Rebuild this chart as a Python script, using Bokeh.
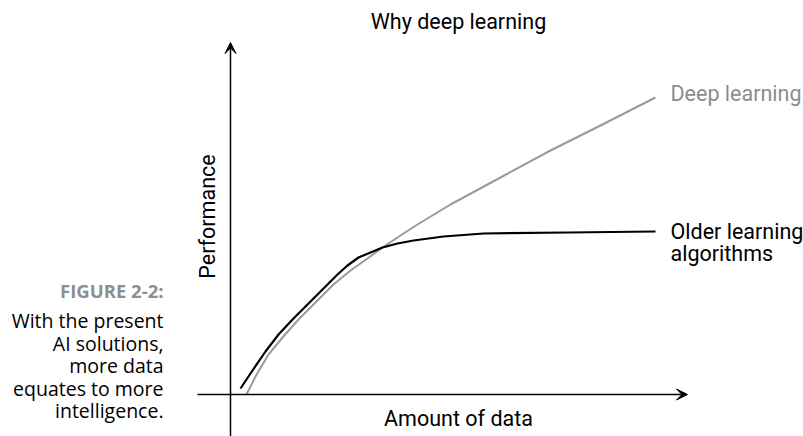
import numpy as np
from bokeh.plotting import figure
from bokeh.models import Range1d, Label, Arrow, VeeHead
from bokeh.embed import file_html
from bokeh.resources import INLINE

# Data (arbitrary units)
old_x = [10, 22, 35, 48, 63, 77, 88, 97, 107, 117, 128, 140, 152, 167, 183, 198, 213, 253, 337, 425]
old_y = [6, 24, 43, 60, 76, 90, 101, 110, 120, 129, 137, 142, 147, 151, 154, 156, 158, 161, 162, 163]
deep_x = [16, 25, 38, 52, 68, 85, 103, 120, 137, 152, 170, 187, 220, 270, 320, 370, 425]
deep_y = [0, 18, 40, 57, 75, 92, 110, 124, 136, 147, 159, 170, 190, 217, 244, 269, 297]

title_text = "Why deep learning"
x_label = "Amount of data"
y_label = "Performance"
series_labels = ["Deep learning", "Older learning", "algorithms"]
caption_head = "FIGURE 2-2:"
caption_lines = ["With the present", "AI solutions,", "more data", "equates to more", "intelligence."]

FONT = "Roboto"
CAP_FONT = "Open Sans"

p = figure(width=803, height=436, output_backend="svg", toolbar_location=None,
           x_range=Range1d(-230, 573), y_range=Range1d(-42, 394),
           min_border=0)
p.axis.visible = False
p.grid.visible = False
p.outline_line_color = None
p.background_fill_color = "white"
p.border_fill_color = "white"

# axes arrows
p.add_layout(Arrow(x_start=0, y_start=-50, x_end=0, y_end=352, line_width=1.5, line_color="black",
                   end=VeeHead(size=11, fill_color="black", line_color="black", line_width=1)))
p.add_layout(Arrow(x_start=-33, y_start=0, x_end=457, y_end=0, line_width=1.5, line_color="black",
                   end=VeeHead(size=11, fill_color="black", line_color="black", line_width=1)))

p.line(deep_x, deep_y, line_color="#9a9a9a", line_width=2, line_join="round")
p.line(old_x, old_y, line_color="black", line_width=2.2, line_join="round")

def lab(text, x, y, size, color="black", align="left", font=FONT, angle=0, style="normal"):
    p.add_layout(Label(x=x, y=y, text=text, text_font=font, text_font_size=f"{size}px",
                       text_color=color, text_align=align, text_baseline="middle",
                       angle=angle, text_font_style=style))

lab(title_text, 228, 373, 21.5, align="center")
lab(x_label, 228, -24, 21.5, align="center")
lab(y_label, -23, 178, 21.5, align="center", angle=np.pi / 2)
lab(series_labels[0], 440, 301, 21.5, color="#8c8c8c")
lab(series_labels[1], 440, 163, 21.5)
lab(series_labels[2], 440, 141, 21.5)

lab(caption_head, -67, 104, 18.5, color="#8e8e8e", align="right", font=CAP_FONT, style="bold")
for i, t in enumerate(caption_lines):
    lab(t, -67, 74 - 22.5 * i, 19.5, align="right", font=CAP_FONT)

open("out.html", "w").write(file_html(p, INLINE))
